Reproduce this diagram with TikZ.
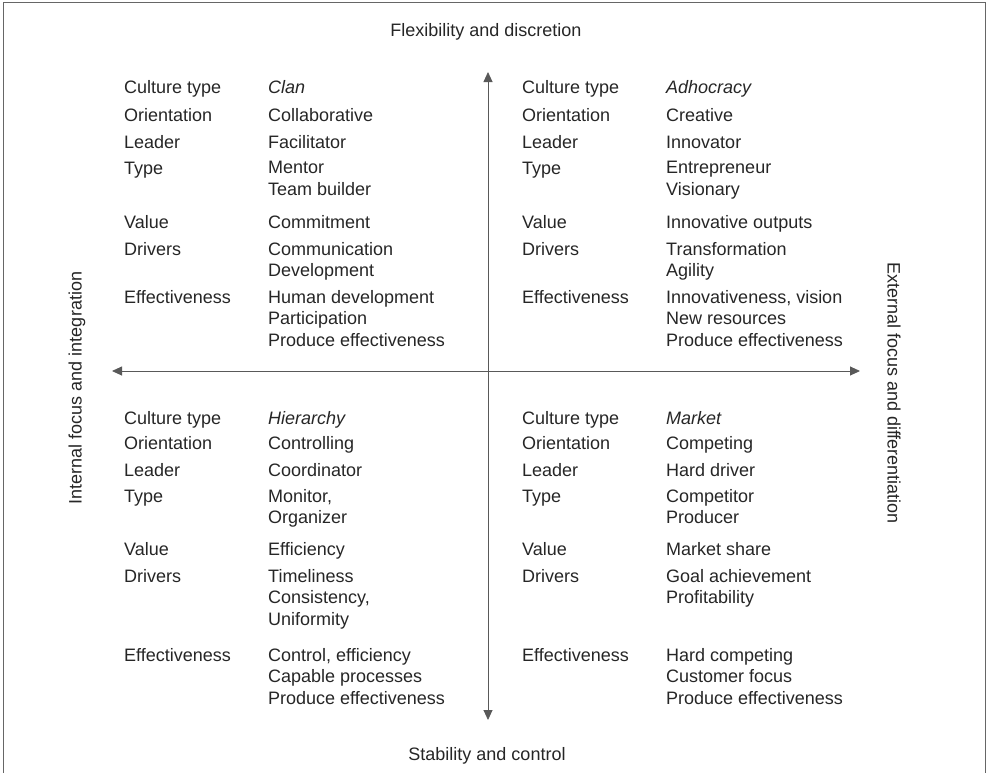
\documentclass[tikz,border=0pt]{standalone}
\usepackage{fontspec}
\setmainfont{Liberation Sans}
\usetikzlibrary{arrows.meta}

\begin{document}
\begin{tikzpicture}[
  x=1pt,y=-1pt,
  txt/.style={anchor=base west,inner sep=0pt,align=left,font=\fontsize{18}{21.5}\selectfont,text=black!85},
  val/.style={txt,anchor=north west,yshift=13pt},
  ttl/.style={inner sep=0pt,font=\fontsize{18}{21}\selectfont,text=black!85},
  axis/.style={{Triangle[length=10pt,width=9pt]}-{Triangle[length=10pt,width=9pt]},draw=black!65,line width=0.9pt}
]
\useasboundingbox (0,0) rectangle (986,772);
\draw[black!60,line width=0.9pt] (3,790) -- (3,2) -- (985,2) -- (985,790);

% axis titles
\node[ttl,anchor=base] (flex) at (486,36) {Flexibility and discretion};
\node[ttl,anchor=base] (stab) at (487,760) {Stability and control};
\node[ttl,rotate=90] (intl) at (77,388) {Internal focus and integration};
\node[ttl,rotate=-90] (extl) at (894,393) {External focus and differentiation};

% axes
\coordinate (top) at (488,72);
\coordinate (bot) at (488,720);
\coordinate (lft) at (112,371);
\coordinate (rgt) at (860,371);
\draw[axis] (bot) -- (top);
\draw[axis] (lft) -- (rgt);

% row labels of the four quadrants
\foreach \lbl/\yt/\yb [count=\i] in {Culture type/93/424,Orientation/121/449,Leader/148/476,Type/174/502,Value/228/555,Drivers/255/582,Effectiveness/303/661}{
  \node[txt] (clan-l\i) at (124,\yt) {\lbl};
  \node[txt] (adho-l\i) at (522,\yt) {\lbl};
  \node[txt] (hier-l\i) at (124,\yb) {\lbl};
  \node[txt] (mark-l\i) at (522,\yb) {\lbl};
}

% clan
\node[txt] (clan-1) at (268,93) {\textit{Clan}};
\node[txt] (clan-2) at (268,121) {Collaborative};
\node[txt] (clan-3) at (268,148) {Facilitator};
\node[val] (clan-4) at (268,174) {Mentor\\Team builder};
\node[txt] (clan-5) at (268,228) {Commitment};
\node[val] (clan-6) at (268,255) {Communication\\Development};
\node[val] (clan-7) at (268,303) {Human development\\Participation\\Produce effectiveness};

% adhocracy
\node[txt] (adho-1) at (666,93) {\textit{Adhocracy}};
\node[txt] (adho-2) at (666,121) {Creative};
\node[txt] (adho-3) at (666,148) {Innovator};
\node[val] (adho-4) at (666,174) {Entrepreneur\\Visionary};
\node[txt] (adho-5) at (666,228) {Innovative outputs};
\node[val] (adho-6) at (666,255) {Transformation\\Agility};
\node[val] (adho-7) at (666,303) {Innovativeness, vision\\New resources\\Produce effectiveness};

% hierarchy
\node[txt] (hier-1) at (268,424) {\textit{Hierarchy}};
\node[txt] (hier-2) at (268,449) {Controlling};
\node[txt] (hier-3) at (268,476) {Coordinator};
\node[val] (hier-4) at (268,502) {Monitor,\\Organizer};
\node[txt] (hier-5) at (268,555) {Efficiency};
\node[val] (hier-6) at (268,582) {Timeliness\\Consistency,\\Uniformity};
\node[val] (hier-7) at (268,661) {Control, efficiency\\Capable processes\\Produce effectiveness};

% market
\node[txt] (mark-1) at (666,424) {\textit{Market}};
\node[txt] (mark-2) at (666,449) {Competing};
\node[txt] (mark-3) at (666,476) {Hard driver};
\node[val] (mark-4) at (666,502) {Competitor\\Producer};
\node[txt] (mark-5) at (666,555) {Market share};
\node[val] (mark-6) at (666,582) {Goal achievement\\Profitability};
\node[val] (mark-7) at (666,661) {Hard competing\\Customer focus\\Produce effectiveness};
\end{tikzpicture}
\end{document}
